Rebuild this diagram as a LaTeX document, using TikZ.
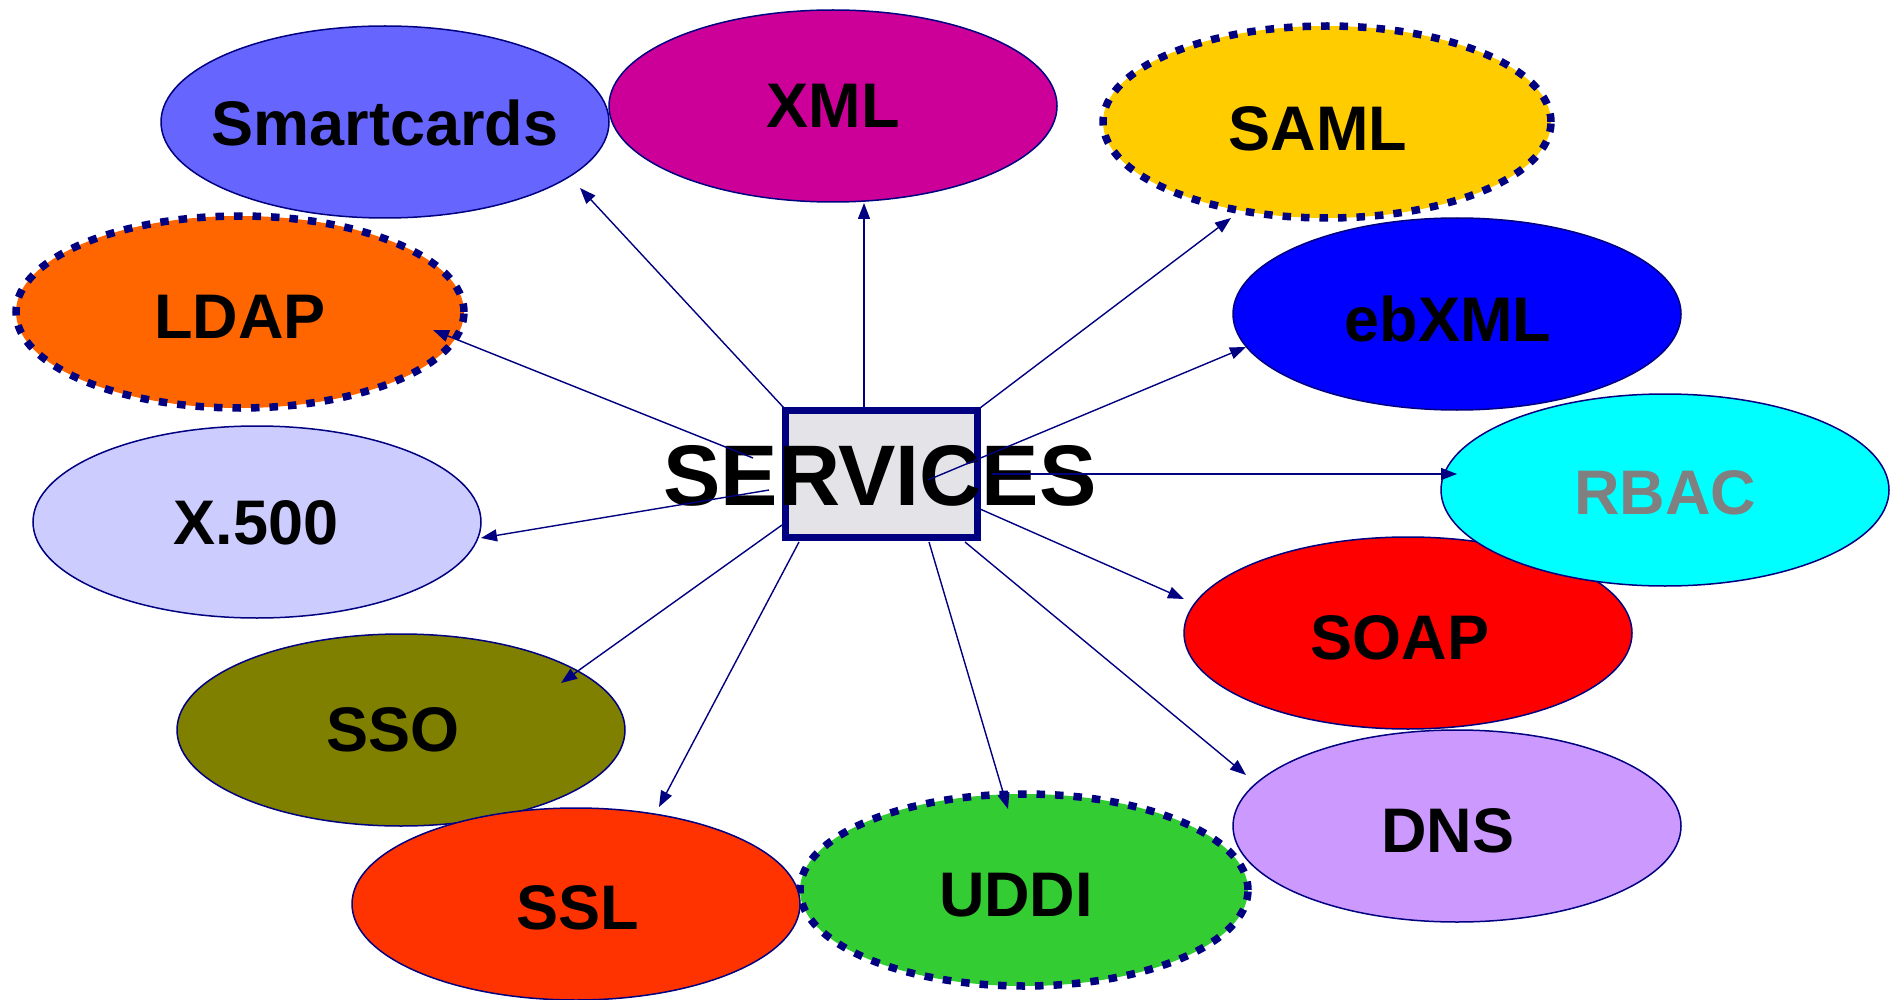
\documentclass[tikz,border=0pt]{standalone}
\usepackage{fontspec}
\setmainfont{Liberation Sans}
\usetikzlibrary{shapes.geometric,arrows.meta}
\definecolor{navyc}{HTML}{000080}
\definecolor{csm}{HTML}{6666FF}
\definecolor{cxml}{HTML}{CC0099}
\definecolor{csaml}{HTML}{FFCC00}
\definecolor{cldap}{HTML}{FF6600}
\definecolor{ceb}{HTML}{0000FF}
\definecolor{crbac}{HTML}{00FFFF}
\definecolor{cx}{HTML}{CCCCFF}
\definecolor{csoap}{HTML}{FF0000}
\definecolor{csso}{HTML}{808000}
\definecolor{cdns}{HTML}{CC99FF}
\definecolor{cssl}{HTML}{FF3300}
\definecolor{cuddi}{HTML}{33CC33}
\definecolor{boxgray}{HTML}{E4E4E8}
\definecolor{txtgray}{HTML}{808080}
\tikzset{
  oval/.style={ellipse, draw=navyc, line width=1.5pt, inner sep=0pt,
    minimum width=448pt, minimum height=192pt,
    font=\fontsize{63}{66}\selectfont\bfseries},
  dotoval/.style={oval, line width=7.5pt, dash pattern=on 8.5pt off 10pt},
  arr/.style={draw=navyc, line width=1.4pt, -{Triangle[length=16pt,width=12pt]}},
}
% \lbl{dx}{dy}{text}: text shifted right by dx and down by dy (pt)
\newcommand{\lbl}[3]{\makebox[0pt]{\hspace*{#1}\raisebox{-#2}[\height][\depth]{#3}}}
\begin{document}
\begin{tikzpicture}[x=1pt,y=-1pt]
\useasboundingbox (0,0) rectangle (1892,1000);
% ellipses
\node[oval, fill=csm] (sm) at (385,122) {\lbl{0pt}{1pt}{Smartcards}};
\node[oval, fill=cxml] (xml) at (833,106) {\lbl{0pt}{0pt}{XML}};
\node[dotoval, fill=csaml] (saml) at (1327,122) {\lbl{-18pt}{7pt}{SAML}};
\node[dotoval, fill=cldap] (ldap) at (240,312) {\lbl{0pt}{5pt}{LDAP}};
\node[oval, fill=ceb] (eb) at (1457,314) {\lbl{-18pt}{5pt}{ebXML}};
\node[oval, fill=cx] (x5) at (257,522) {\lbl{-2pt}{1pt}{X.500}};
\node[oval, fill=csoap] (soap) at (1408,633) {\lbl{-16pt}{5pt}{SOAP}};
\node[oval, fill=crbac, text=txtgray] (rbac) at (1665,490) {\lbl{0pt}{3pt}{RBAC}};
\node[oval, fill=csso] (sso) at (401,730) {\lbl{-16pt}{0pt}{SSO}};
\node[oval, fill=cdns] (dns) at (1457,826) {\lbl{-18pt}{5pt}{DNS}};
\node[dotoval, fill=cuddi] (uddi) at (1024,890) {\lbl{-16pt}{5pt}{UDDI}};
\node[oval, fill=cssl] (ssl) at (576,904) {\lbl{4pt}{4pt}{SSL}};
% center box
\node[draw=navyc, line width=7pt, fill=boxgray, minimum width=192pt, minimum height=127pt, inner sep=0pt] (box) at (881,474) {};
\node[font=\fontsize{86}{90}\selectfont\bfseries, inner sep=0pt] (svc) at (880,476) {SERVICES};
% arrows
\draw[arr] ([shift={(-97,-66)}]box.center) -- ([shift={(195,66)}]sm.center);
\draw[arr] ([shift={(-17,-66)}]box.center) -- ([shift={(31,97)}]xml.center);
\draw[arr] ([shift={(99,-66)}]box.center) -- ([shift={(-96,96)}]saml.center);
\draw[arr] ([shift={(-128,-16)}]box.center) -- ([shift={(193,18)}]ldap.center);
\draw[arr] ([shift={(-112,16)}]box.center) -- ([shift={(224,16)}]x5.center);
\draw[arr] ([shift={(47,6)}]box.center) -- ([shift={(-211,33)}]eb.center);
\draw[arr] ([shift={(111,0)}]box.center) -- ([shift={(-208,-16)}]rbac.center);
\draw[arr] ([shift={(99,35)}]box.center) -- ([shift={(-224,-34)}]soap.center);
\draw[arr] ([shift={(84,68)}]box.center) -- ([shift={(-211,-51)}]dns.center);
\draw[arr] ([shift={(48,68)}]box.center) -- ([shift={(-16,-81)}]uddi.center);
\draw[arr] ([shift={(-82,68)}]box.center) -- ([shift={(83,-97)}]ssl.center);
\draw[arr] ([shift={(-99,51)}]box.center) -- ([shift={(160,-47)}]sso.center);
\end{tikzpicture}
\end{document}
